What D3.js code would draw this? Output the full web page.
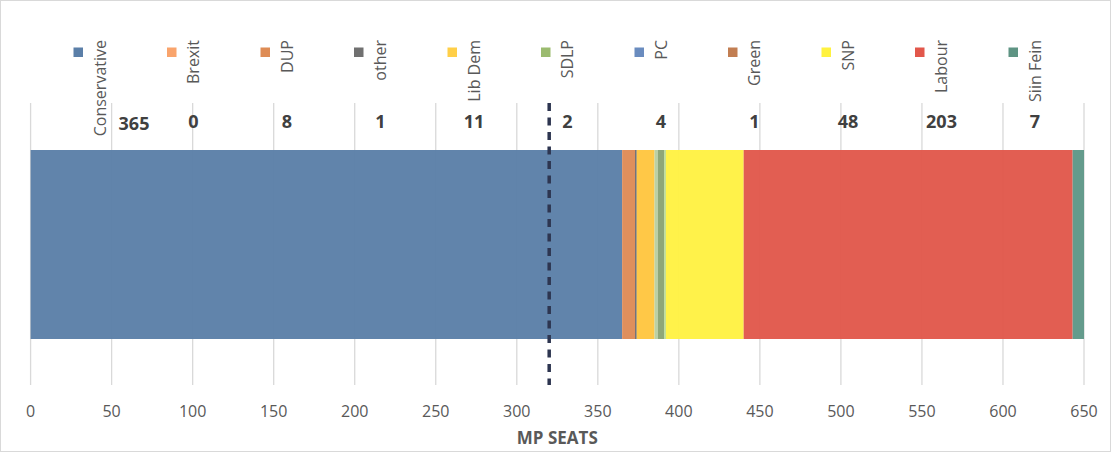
<!DOCTYPE html>
<html><head><meta charset="utf-8">
<script src="https://cdn.jsdelivr.net/npm/d3@7/dist/d3.min.js"></script>
<style>body{margin:0;background:#fff}svg{display:block}</style>
</head><body>
<script>
const parties = ["Conservative","Brexit","DUP","other","Lib Dem","SDLP","PC","Green","SNP","Labour","Siin Fein"];
const seats = [365,0,8,1,11,2,4,1,48,203,7];
const legendColors = ["#5B7FA8","#F9A46C","#DE8C55","#707070","#FFCF48","#9BBB6F","#6A8CBF","#C27E52","#FFF23F","#E2574B","#5E9483"];
const barColors = ["#5B7FA8","#F9A46C","#DE8A55","#5F6069","#FFC640","#B9CFA0","#8AA373","#B4D98E","#FFF143","#E1574B","#5E9787"];
const xTicks = [0,50,100,150,200,250,300,350,400,450,500,550,600,650];
const majority = 320;
const axisTitle = "MP SEATS";

const W = 1111, H = 452;
const FONT = "Open Sans, sans-serif";
const svg = d3.select("body").append("svg").attr("width", W).attr("height", H);
svg.append("rect").attr("x",0.5).attr("y",0.5).attr("width",W-1).attr("height",H-1)
  .attr("fill","#fff").attr("stroke","#D9D9D9");

const x = d3.scaleLinear().domain([0,650]).range([30.6,1084]);
const gridTop = 103, gridBottom = 385, barTop = 150, barBottom = 339;

// gridlines
svg.append("g").selectAll("line").data(xTicks).join("line")
  .attr("x1",d=>x(d)).attr("x2",d=>x(d)).attr("y1",gridTop).attr("y2",gridBottom)
  .attr("stroke","#D9D9D9").attr("stroke-width",1.3);

// stacked bar
let cum = 0;
const segs = seats.map((v,i)=>{const s={i,start:cum,end:cum+v}; cum+=v; return s;});
svg.append("g").selectAll("rect").data(segs.filter(s=>s.end>s.start)).join("rect")
  .attr("x",d=>x(d.start)).attr("width",d=>x(d.end)-x(d.start))
  .attr("y",barTop).attr("height",barBottom-barTop)
  .attr("fill",d=>barColors[d.i]).attr("fill-opacity",0.96);

// majority line
svg.append("line").attr("x1",x(majority)).attr("x2",x(majority))
  .attr("y1",gridTop).attr("y2",gridBottom)
  .attr("stroke","#2D3550").attr("stroke-width",3.5).attr("stroke-dasharray","8,6.5");

// axis labels
svg.append("g").selectAll("text").data(xTicks).join("text")
  .attr("x",d=>x(d)).attr("y",411).attr("dy","0.35em").attr("text-anchor","middle")
  .attr("font-family",FONT).attr("font-size",16).attr("fill","#595959")
  .text(d=>d);
svg.append("text").attr("x",(x(0)+x(650))/2).attr("y",438).attr("dy","0.36em")
  .attr("text-anchor","middle").attr("font-family",FONT)
  .attr("font-size",17).attr("font-weight","bold").attr("fill","#595959").text(axisTitle);

// legend
const lx = d3.scalePoint().domain(parties).range([78,1013]);
const leg = svg.append("g").selectAll("g").data(parties).join("g");
leg.append("rect").attr("x",d=>lx(d)-4.5).attr("y",47.5).attr("width",9.5).attr("height",9.5)
  .attr("fill",(d,i)=>legendColors[i]);
leg.append("text")
  .attr("transform",d=>`translate(${lx(d)+22},40) rotate(-90)`)
  .attr("text-anchor","end").attr("dy","0.35em")
  .attr("font-family",FONT).attr("font-size",16).attr("fill","#595959")
  .text(d=>d);

// value labels
svg.append("g").selectAll("text").data(parties).join("text")
  .attr("x",(d,i)=>lx(d)+22+(i===0?34:0)).attr("y",(d,i)=>i===0?124:122).attr("dy","0.36em")
  .attr("text-anchor","middle").attr("font-family",FONT)
  .attr("font-size",18).attr("font-weight","bold").attr("fill","#404040")
  .text((d,i)=>seats[i]);
</script>
</body></html>
